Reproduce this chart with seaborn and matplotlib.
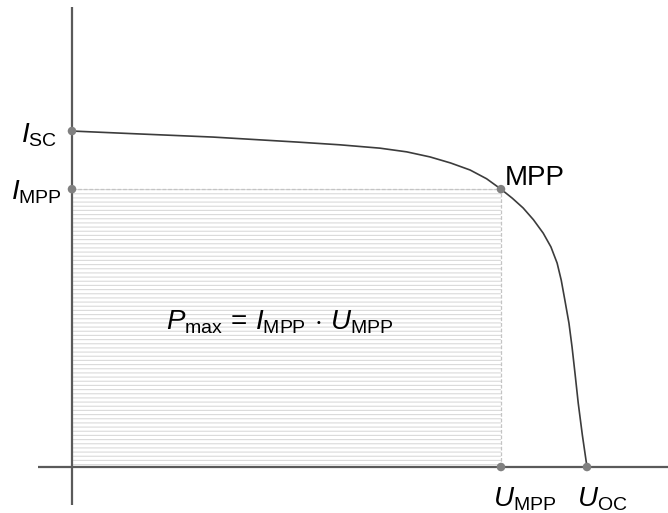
import numpy as np
import pandas as pd
import matplotlib
matplotlib.use("Agg")
import matplotlib.pyplot as plt
import seaborn as sns

# I-U curve of a solar cell, normalised (U / U_OC, I / I_SC)
u_curve = [0.0, 0.12, 0.274, 0.439, 0.52, 0.598, 0.65, 0.695, 0.735, 0.773, 0.805,
           0.833, 0.855, 0.876, 0.896, 0.915, 0.93, 0.942, 0.95, 0.957, 0.965,
           0.971, 0.977, 0.983, 0.991, 1.0]
i_curve = [1.0, 0.992, 0.982, 0.967, 0.959, 0.949, 0.938, 0.923, 0.905, 0.884, 0.858,
           0.827, 0.800, 0.771, 0.736, 0.696, 0.655, 0.607, 0.556, 0.497, 0.428,
           0.357, 0.275, 0.190, 0.095, 0.0]

u_mpp, i_mpp = 0.833, 0.827
u_oc, i_sc = 1.0, 1.0

point_u = [0.0, 0.0, u_mpp, u_mpp, u_oc]
point_i = [i_sc, i_mpp, i_mpp, 0.0, 0.0]

sns.set_style("white")
plt.rcParams["font.family"] = ["Liberation Sans", "DejaVu Sans"]
plt.rcParams["text.color"] = "black"
plt.rcParams["mathtext.fontset"] = "custom"
plt.rcParams["mathtext.rm"] = "Liberation Sans"
plt.rcParams["mathtext.it"] = "Liberation Sans:italic"
plt.rcParams["hatch.linewidth"] = 0.8
plt.rcParams["hatch.color"] = "#dadada"

fig = plt.figure(figsize=(6.68, 5.13), dpi=100)
ax = fig.add_axes([0, 0, 1, 1])
ax.set_xlim(-0.1398, 1.1573)
ax.set_ylim(-0.1369, 1.390)
ax.axis("off")

# shaded power rectangle
ax.fill_between([0, u_mpp], 0, i_mpp, facecolor="white", hatch="----",
                edgecolor="#dadada", linewidth=0)
ax.plot([0, u_mpp, u_mpp], [i_mpp, i_mpp, 0], color="#c4c4c4", lw=0.9, ls=(0, (3, 1.5)))

# axes
ax.plot([-0.066, 1.1573], [0, 0], color="#5a5a5a", lw=1.6, solid_capstyle="butt")
ax.plot([0, 0], [-0.113, 1.369], color="#5a5a5a", lw=1.6, solid_capstyle="butt")

df = pd.DataFrame({"U": u_curve, "I": i_curve})
sns.lineplot(data=df, x="U", y="I", ax=ax, color="#3c3c3c", lw=1.2, sort=False)

pts = pd.DataFrame({"U": point_u, "I": point_i})
sns.scatterplot(data=pts, x="U", y="I", ax=ax, color="#808080", s=38,
                edgecolor="none", zorder=5)

fs = 20
ax.annotate(r"$I_{\mathrm{SC}}$", (0, i_sc), xytext=(-11, -3), textcoords="offset points",
            ha="right", va="center", fontsize=fs)
ax.annotate(r"$I_{\mathrm{MPP}}$", (0, i_mpp), xytext=(-7, -2), textcoords="offset points",
            ha="right", va="center", fontsize=fs)
ax.annotate("MPP", (u_mpp, i_mpp), xytext=(3, 3), textcoords="offset points",
            ha="left", va="baseline", fontsize=fs)
ax.annotate(r"$U_{\mathrm{MPP}}$", (u_mpp, 0), xytext=(17, -13), textcoords="offset points",
            ha="center", va="top", fontsize=fs)
ax.annotate(r"$U_{\mathrm{OC}}$", (u_oc, 0), xytext=(11, -13), textcoords="offset points",
            ha="center", va="top", fontsize=fs)
ax.text(0.404, 0.43, r"$P_{\mathrm{max}}\,=\,I_{\mathrm{MPP}}\,\cdot\,U_{\mathrm{MPP}}$",
        ha="center", va="center", fontsize=fs)

fig.savefig("out.png", dpi=100)
